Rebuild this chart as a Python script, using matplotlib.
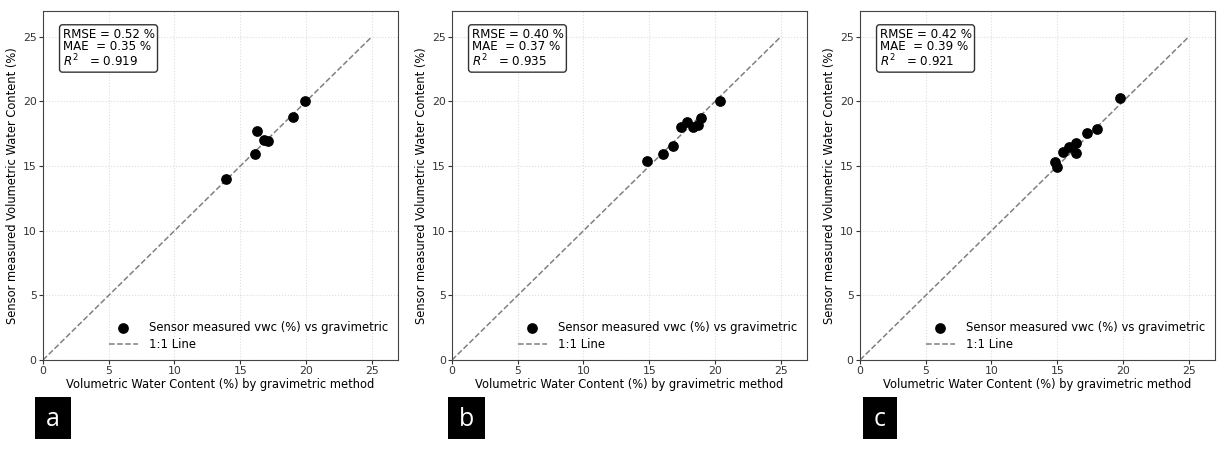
import matplotlib.pyplot as plt
from matplotlib.patches import Rectangle

# gravimetric vwc (x) vs sensor vwc (y), one pair of lists per panel
grav_a = [13.9, 16.1, 16.3, 16.8, 17.15, 19.05, 19.9]
sens_a = [14.0, 15.95, 17.75, 17.05, 16.95, 18.8, 20.05]

grav_b = [14.85, 16.05, 16.8, 17.45, 17.85, 18.3, 18.7, 18.95, 20.35]
sens_b = [15.4, 15.95, 16.55, 18.0, 18.45, 18.05, 18.2, 18.75, 20.05]

grav_c = [14.8, 15.0, 15.45, 15.9, 16.45, 16.45, 17.3, 18.0, 19.75]
sens_c = [15.35, 14.9, 16.1, 16.5, 16.8, 16.0, 17.6, 17.85, 20.25]

stats_rmse = [0.52, 0.40, 0.42]
stats_mae = [0.35, 0.37, 0.39]
stats_r2 = [0.919, 0.935, 0.921]
panel_tags = ['a', 'b', 'c']

one_to_one = [0, 25]

fig = plt.figure(figsize=(12.24, 4.49), dpi=100)
W, H = 1224.0, 449.0
lefts = [43, 452, 860]
ax_w = 355
ax_top, ax_bot = 11, 360
tag_x = [35, 448, 863]
tag_w = [36, 37, 34]

data = [(grav_a, sens_a), (grav_b, sens_b), (grav_c, sens_c)]

for i, (gx, sy) in enumerate(data):
    ax = fig.add_axes([lefts[i] / W, 1 - ax_bot / H, ax_w / W, (ax_bot - ax_top) / H])
    ax.scatter(gx, sy, s=45, color='black', zorder=3,
               label='Sensor measured vwc (%) vs gravimetric')
    ax.plot(one_to_one, one_to_one, linestyle='--', color='gray', lw=1.1, label='1:1 Line')
    ax.set_xlim(0, 27)
    ax.set_ylim(0, 27)
    ax.set_xticks([0, 5, 10, 15, 20, 25])
    ax.set_yticks([0, 5, 10, 15, 20, 25])
    ax.grid(True, color='#dddddd', linestyle=':', lw=0.8)
    ax.tick_params(labelsize=7.8, length=3, pad=1.5, colors='#333333')
    ax.set_xlabel('Volumetric Water Content (%) by gravimetric method', fontsize=8.3, labelpad=1)
    ax.set_ylabel('Sensor measured Volumetric Water Content (%)', fontsize=8.3, labelpad=3)
    for sp in ax.spines.values():
        sp.set_color('#444444')
    txt = (f'RMSE = {stats_rmse[i]:.2f} %\n'
           f'MAE  = {stats_mae[i]:.2f} %\n'
           f'$R^2$   = {stats_r2[i]:.3f}')
    ax.text(0.055, 0.952, txt, transform=ax.transAxes, fontsize=8.6, va='top', ha='left',
            linespacing=0.95,
            bbox=dict(boxstyle='round,pad=0.25', facecolor='white', edgecolor='#333333'))
    ax.legend(loc='lower right', frameon=False, fontsize=8.4, handlelength=2.5,
              borderaxespad=0.4, labelspacing=0.3, handletextpad=1.0)

    # black tag box with the panel letter
    fig.patches.append(Rectangle((tag_x[i] / W, 1 - 439 / H), tag_w[i] / W, 42 / H,
                                 transform=fig.transFigure, facecolor='black', edgecolor='none'))
    fig.text((tag_x[i] + tag_w[i] / 2) / W, 1 - 419 / H, panel_tags[i], color='white',
             fontsize=18, ha='center', va='center', family='Open Sans')

fig.savefig('out.png', dpi=100)
